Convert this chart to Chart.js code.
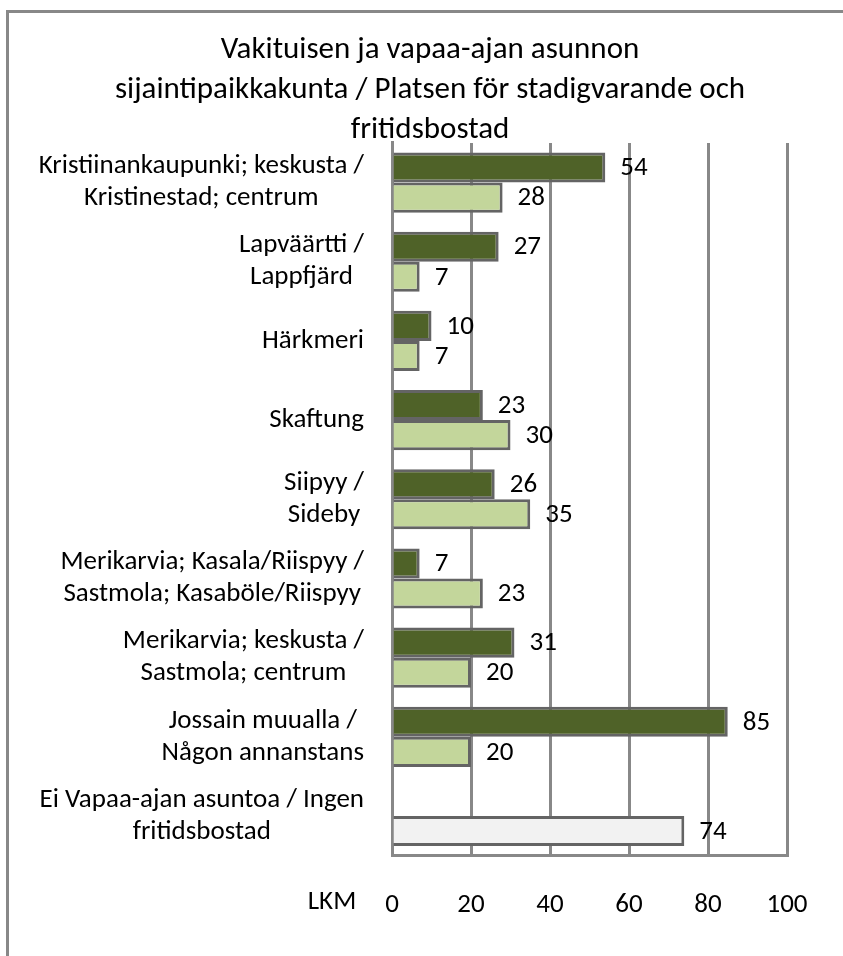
<!DOCTYPE html>
<html>
<head>
<meta charset="utf-8">
<script src="https://cdn.jsdelivr.net/npm/chart.js@4/dist/chart.umd.min.js"></script>
<style>
  html, body { margin: 0; padding: 0; background: #fff; }
  #wrap { position: relative; width: 843px; height: 956px; overflow: hidden; }
  #frame {
    position: absolute; left: 6px; top: 10px; width: 1000px; height: 1100px;
    border-top: 3px solid #888; border-left: 3px solid #888;
  }
  #myChart { position: absolute; left: 0; top: 0; }
</style>
</head>
<body>
<div id="wrap">
  <div id="frame"></div>
  <canvas id="myChart" width="843" height="956"></canvas>
</div>
<script>
'use strict';

var titleLines = [
  'Vakituisen ja vapaa-ajan asunnon',
  'sijaintipaikkakunta / Platsen för stadigvarande och',
  'fritidsbostad'
];

var categories = [
  ['Kristiinankaupunki; keskusta /', 'Kristinestad; centrum'],
  ['Lapväärtti /', 'Lappfjärd'],
  ['Härkmeri'],
  ['Skaftung'],
  ['Siipyy /', 'Sideby'],
  ['Merikarvia; Kasala/Riispyy /', 'Sastmola; Kasaböle/Riispyy'],
  ['Merikarvia; keskusta /', 'Sastmola; centrum'],
  ['Jossain muualla /', 'Någon annanstans'],
  ['Ei Vapaa-ajan asuntoa / Ingen', 'fritidsbostad']
];

// vakituinen asunto (dark) and vapaa-ajan asunto (light)
var permanentValues = [54, 27, 10, 23, 26, 7, 31, 85, null];
var leisureValues = [28, 7, 7, 30, 35, 23, 20, 20, 74];

var axisTicks = [0, 20, 40, 60, 80, 100];
var axisLabel = 'LKM';

var fontFamily = 'Carlito, Calibri, Lato, "Open Sans", sans-serif';
var textSize = 27;
var darkGreen = '#4f6228';
var lightGreen = '#c3d69b';
var noneGray = '#f2f2f2';

(function () {
  var leisureColors = [];
  for (var i = 0; i < leisureValues.length; i++) {
    // last row is "no leisure home", drawn in light gray
    leisureColors.push(i === leisureValues.length - 1 ? noneGray : lightGreen);
  }

  // category labels: block right-aligned, lines centered inside the block
  var categoryLabelPlugin = {
    id: 'categoryLabels',
    afterDraw: function (chart) {
      var ctx = chart.ctx;
      var yScale = chart.scales.y;
      var rightEdge = chart.chartArea.left - 28;
      var lineH = 32;
      ctx.save();
      ctx.font = textSize + 'px ' + fontFamily;
      ctx.fillStyle = '#000';
      ctx.textAlign = 'center';
      ctx.textBaseline = 'middle';
      for (var i = 0; i < categories.length; i++) {
        var lines = categories[i];
        var maxW = 0;
        for (var j = 0; j < lines.length; j++) {
          maxW = Math.max(maxW, ctx.measureText(lines[j]).width);
        }
        var cx = rightEdge - maxW / 2;
        var cy = yScale.getPixelForValue(i);
        var startY = cy - (lines.length - 1) * lineH / 2;
        for (var k = 0; k < lines.length; k++) {
          ctx.fillText(lines[k], cx, startY + k * lineH);
        }
      }
      // axis caption left of the 0 tick
      ctx.fillText(axisLabel, chart.chartArea.left - 60, chart.chartArea.bottom + 47);
      ctx.restore();
    }
  };

  // value labels just past the bar end
  var valueLabelPlugin = {
    id: 'valueLabels',
    afterDatasetsDraw: function (chart) {
      var ctx = chart.ctx;
      ctx.save();
      ctx.font = textSize + 'px ' + fontFamily;
      ctx.fillStyle = '#000';
      ctx.textAlign = 'left';
      ctx.textBaseline = 'middle';
      chart.data.datasets.forEach(function (ds, di) {
        var meta = chart.getDatasetMeta(di);
        meta.data.forEach(function (bar, idx) {
          var v = ds.data[idx];
          if (v === null || v === undefined) return;
          ctx.fillText(String(v), bar.x + 15, bar.y + 1);
        });
      });
      ctx.restore();
    }
  };

  var ctx = document.getElementById('myChart').getContext('2d');

  var data = {
    labels: categories,
    datasets: [
      {
        label: 'Vakituinen asunto',
        data: permanentValues,
        backgroundColor: darkGreen,
        borderColor: '#646464',
        borderWidth: 3
      },
      {
        label: 'Vapaa-ajan asunto',
        data: leisureValues,
        backgroundColor: leisureColors,
        borderColor: '#646464',
        borderWidth: 3
      }
    ]
  };

  var options = {
    responsive: false,
    animation: false,
    indexAxis: 'y',
    layout: {
      padding: { left: 73, right: 56, top: 0, bottom: 2 }
    },
    datasets: {
      bar: { categoryPercentage: 0.76, barPercentage: 1.0 }
    },
    plugins: {
      legend: { display: false },
      tooltip: { enabled: false },
      title: {
        display: true,
        text: titleLines,
        color: '#000',
        font: { family: fontFamily, size: 31, weight: 'normal', lineHeight: 1.29 },
        padding: { top: 30, bottom: -7 }
      }
    },
    scales: {
      x: {
        min: axisTicks[0],
        max: axisTicks[axisTicks.length - 1],
        afterBuildTicks: function (scale) {
          scale.ticks = axisTicks.map(function (v) { return { value: v }; });
        },
        grid: { color: '#888', lineWidth: 3, drawTicks: false },
        border: { display: true, color: '#888', width: 3 },
        ticks: {
          color: '#000',
          padding: 33,
          font: { family: fontFamily, size: textSize }
        }
      },
      y: {
        afterFit: function (scale) {
          scale.width = 319;
        },
        grid: { display: false, drawTicks: false },
        border: { display: true, color: '#888', width: 3 },
        ticks: { display: false }
      }
    }
  };

  new Chart(ctx, {
    type: 'bar',
    data: data,
    options: options,
    plugins: [categoryLabelPlugin, valueLabelPlugin]
  });
})();
</script>
</body>
</html>
